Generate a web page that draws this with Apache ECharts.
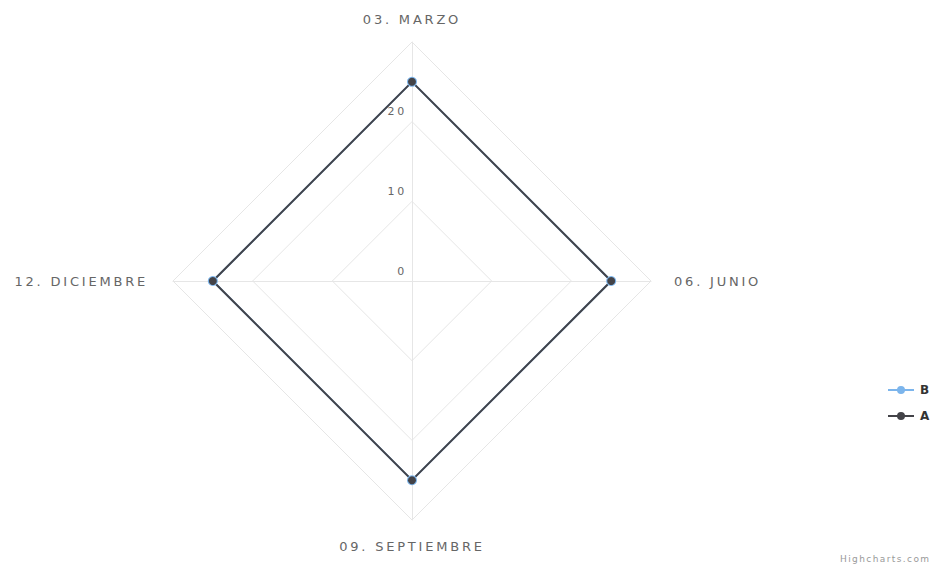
<!DOCTYPE html>
<html><head><meta charset="utf-8">
<script src="https://cdn.jsdelivr.net/npm/echarts@6/dist/echarts.min.js"></script>
<style>html,body{margin:0;padding:0;background:#fff}#c{width:934px;height:567px}#c text{letter-spacing:2.8px}#c text[fill="#999"]{letter-spacing:1.4px}</style>
</head><body><div id="c"></div>
<script>
// indicators listed in clockwise order from the top
const categories = ['03. MARZO', '06. JUNIO', '09. SEPTIEMBRE', '12. DICIEMBRE'];
const seriesB = [25, 25, 25, 25];
const seriesA = [25, 25, 25, 25];
const axisMax = 30;
const tickLabels = ['0', '10', '20'];

// ECharts places radar indicators counter-clockwise; reorder to get clockwise
function ccw(arr) { return [arr[0]].concat(arr.slice(1).reverse()); }

const font = '"DejaVu Sans", Verdana, sans-serif';
const gaps = { '03. MARZO': 16, '06. JUNIO': 23, '09. SEPTIEMBRE': 20, '12. DICIEMBRE': 25 };
const indicator = ccw(categories).map((name, i) => ({
  name: name, min: 0, max: axisMax, nameGap: gaps[name],
  axisLabel: i === 0 ? {
    show: true, color: '#666', fontSize: 11, fontFamily: font, margin: 5,
    lineHeight: 20,
    formatter: v => tickLabels.indexOf(String(v)) >= 0 ? String(v) + '\n ' : ''
  } : { show: false }
}));

const legendIcon = 'path://M0,5L26,5L26,7L0,7Z M9,6A4,4 0 1 1 17,6A4,4 0 1 1 9,6Z';

const chart = echarts.init(document.getElementById('c'), null, { renderer: 'svg' });
chart.setOption({
  animation: false,
  radar: {
    center: [412, 281],
    radius: 239,
    startAngle: 90,
    shape: 'polygon',
    splitNumber: 3,
    indicator: indicator,
    axisName: { color: '#666', fontSize: 13, fontFamily: font },
    axisLine: { lineStyle: { color: '#e6e6e6', width: 1 } },
    splitLine: { lineStyle: { color: '#e6e6e6', width: 1 } },
    splitArea: { show: false },
    axisTick: { show: false }
  },
  legend: {
    orient: 'vertical', left: 883, top: 379, itemGap: 14,
    itemWidth: 28, itemHeight: 8, icon: legendIcon,
    itemStyle: { borderWidth: 0 },
    textStyle: { color: '#333', fontSize: 12, fontWeight: 'bold', fontFamily: font },
    data: [
      { name: 'B', itemStyle: { color: '#7cb5ec', borderWidth: 0 } },
      { name: 'A', itemStyle: { color: '#434348', borderWidth: 0 } }
    ]
  },
  series: [{
    type: 'radar',
    data: [
      { name: 'B', value: ccw(seriesB), symbolSize: 10, itemStyle: { color: '#7cb5ec' }, lineStyle: { color: '#7cb5ec', width: 2 } },
      { name: 'A', value: ccw(seriesA), symbolSize: 8, itemStyle: { color: '#434348' }, lineStyle: { color: '#434348', width: 2 } }
    ],
    symbol: 'circle'
  }],
  graphic: [{
    type: 'text', left: 840, top: 554,
    style: { text: 'Highcharts.com', fill: '#999', fontSize: 9, fontFamily: font }
  }]
});
</script></body></html>
